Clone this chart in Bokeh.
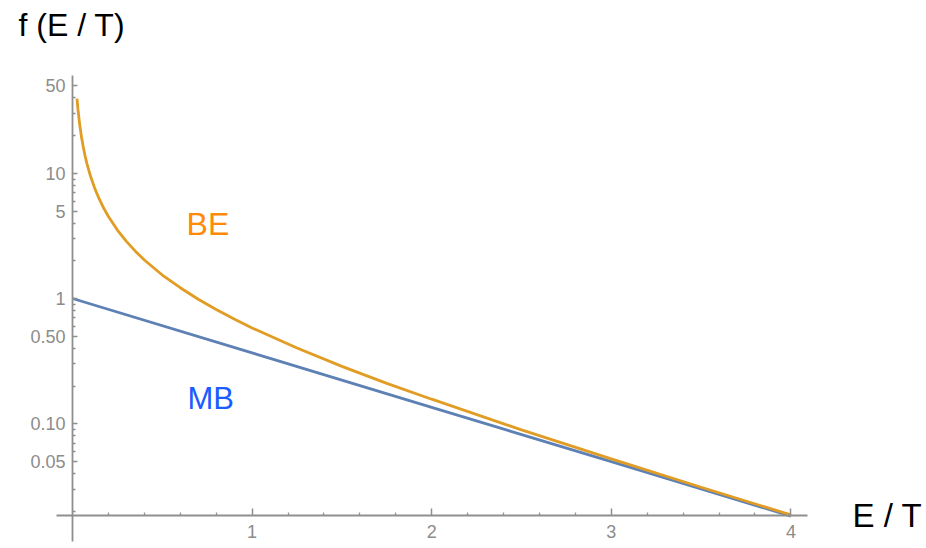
from bokeh.plotting import figure
from bokeh.models import LinearAxis, LogAxis, FixedTicker, Label, Range1d
from bokeh.embed import file_html
from bokeh.resources import INLINE

# ---- data ----
be_x = [0.025, 0.03, 0.04, 0.05, 0.06, 0.07, 0.08, 0.1, 0.125, 0.15, 0.175, 0.2, 0.25,
        0.3, 0.35, 0.4, 0.5, 0.6, 0.7, 0.8, 0.9, 1.0, 1.25, 1.5, 1.75, 2.0, 2.5,
        3.0, 3.5, 4.0]
be_y = [39.5, 32.8, 24.5, 19.5, 16.2, 13.8, 12.0, 9.51, 7.51, 6.18, 5.23, 4.52, 3.52,
        2.86, 2.39, 2.03, 1.54, 1.22, 0.986, 0.816, 0.685, 0.582, 0.402, 0.287, 0.210,
        0.157, 0.0894, 0.0524, 0.0311, 0.0187]
mb_x = [0.0, 1.0, 2.0, 3.0, 4.0]
mb_y = [1.0, 0.368, 0.135, 0.0498, 0.0183]

x_ticks = [1, 2, 3, 4]
x_minor = [0.2, 0.4, 0.6, 0.8, 1.2, 1.4, 1.6, 1.8, 2.2, 2.4, 2.6, 2.8, 3.2, 3.4, 3.6, 3.8]
y_ticks = [0.05, 0.1, 0.5, 1, 5, 10, 50]
y_labels = {0.05: "0.05", 0.1: "0.10", 0.5: "0.50", 1: "1", 5: "5", 10: "10", 50: "50"}
y_minor = [0.02, 0.03, 0.04, 0.06, 0.07, 0.08, 0.09, 0.2, 0.3, 0.4, 0.6, 0.7, 0.8, 0.9,
           2, 3, 4, 6, 7, 8, 9, 20, 30, 40]
y_cross = 0.0185

FONT = "Liberation Sans"
AX = "#8f8f8f"
LAB = "#8c8c8c"

p = figure(width=926, height=548, output_backend="svg", toolbar_location=None,
           y_axis_type="log", x_axis_location=None, y_axis_location=None,
           x_range=Range1d(-0.4009, 4.755), y_range=Range1d(0.01008, 240),
           min_border=0)
p.outline_line_color = None
p.grid.visible = False
p.background_fill_color = "white"
p.border_fill_color = "white"

xa = LinearAxis(fixed_location=y_cross, bounds=(-0.0891, 4.0924),
                ticker=FixedTicker(ticks=x_ticks, minor_ticks=x_minor))
xa.axis_line_color = AX
xa.axis_line_width = 1.8
xa.major_tick_line_color = AX
xa.major_tick_line_width = 1.5
xa.minor_tick_line_color = AX
xa.minor_tick_line_width = 1.3
xa.major_tick_in = 7
xa.major_tick_out = 0
xa.minor_tick_in = 3
xa.minor_tick_out = 0
xa.major_label_standoff = 10
xa.major_label_text_font = FONT
xa.major_label_text_font_size = "18px"
xa.major_label_text_color = LAB
p.add_layout(xa, "below")

ya = LogAxis(fixed_location=0, bounds=(0.01146, 60.4),
             ticker=FixedTicker(ticks=y_ticks, minor_ticks=y_minor))
ya.axis_line_color = AX
ya.axis_line_width = 1.8
ya.major_tick_line_color = AX
ya.major_tick_line_width = 1.5
ya.minor_tick_line_color = AX
ya.minor_tick_line_width = 1.3
ya.major_tick_in = 5
ya.major_tick_out = 0
ya.minor_tick_in = 3
ya.minor_tick_out = 0
ya.major_label_standoff = 7
ya.major_label_overrides = y_labels
ya.major_label_text_font = FONT
ya.major_label_text_font_size = "18px"
ya.major_label_text_color = LAB
p.add_layout(ya, "left")

p.line(mb_x, mb_y, line_color="#5E81B5", line_width=2.8)
p.line(be_x, be_y, line_color="#E19C24", line_width=2.8)

p.add_layout(Label(x=-0.3007, y=154, text="f (E / T)", text_font=FONT, text_font_size="32px",
                   text_color="black", text_baseline="middle", text_align="left"))
p.add_layout(Label(x=4.343, y=y_cross, text="E / T", text_font=FONT, text_font_size="33px",
                   text_color="black", text_baseline="middle", text_align="left"))
p.add_layout(Label(x=0.635, y=3.97, text="BE", text_font=FONT, text_font_size="32px",
                   text_color="#FF8A0A", text_baseline="middle", text_align="left"))
p.add_layout(Label(x=0.640, y=0.160, text="MB", text_font=FONT, text_font_size="31px",
                   text_color="#1A5CFF", text_baseline="middle", text_align="left"))

open("out.html", "w").write(file_html(p, INLINE))
